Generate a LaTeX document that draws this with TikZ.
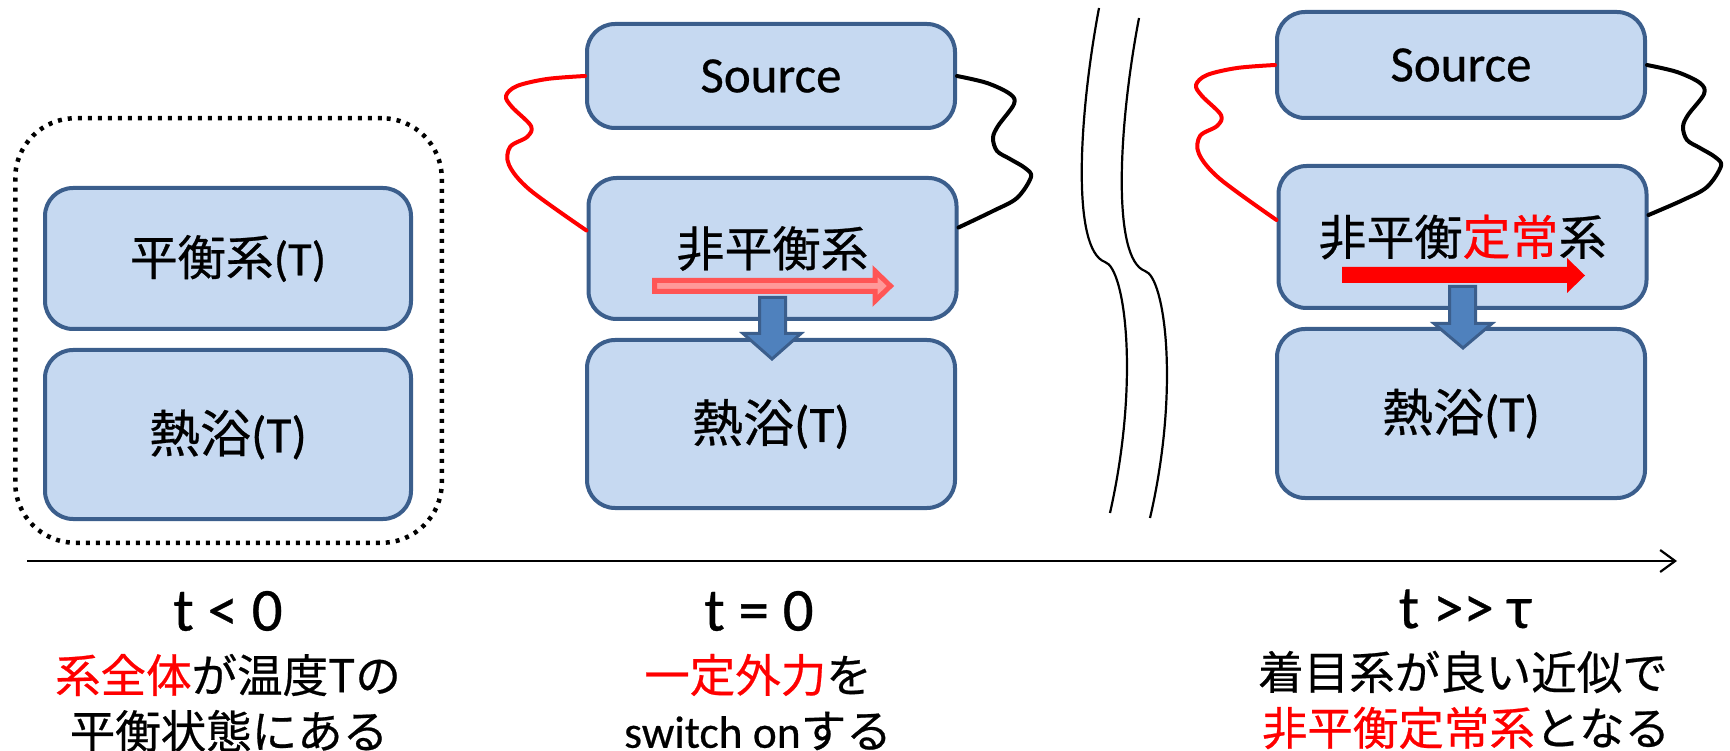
\documentclass[tikz,border=0pt]{standalone}
\usepackage{fontspec}
\setmainfont{Carlito}[FakeBold=0.5]
\newfontfamily\cjk{Noto Sans CJK JP}[FakeBold=0.5]
\usetikzlibrary{arrows.meta}
\definecolor{boxfill}{HTML}{C6D9F1}
\definecolor{boxline}{HTML}{3B5E8C}
\definecolor{arrowblue}{HTML}{4F81BD}
\definecolor{pinkfill}{HTML}{FF9999}
\definecolor{pinkline}{HTML}{FF5555}
\definecolor{pptred}{HTML}{FF0000}
\begin{document}
\begin{tikzpicture}[x=1pt,y=-1pt,
  box/.style={draw=boxline, fill=boxfill, line width=4pt, rounded corners=28pt, inner sep=0pt, align=center, minimum width=368pt},
  dotbox/.style={draw=black, line width=4.5pt, dash pattern=on 4pt off 6pt, rounded corners=60pt, inner sep=0pt},
  wire/.style={line width=4pt, line join=round, line cap=round},
  brk/.style={line width=2.2pt},
  heat/.style={draw=boxline, fill=arrowblue, line width=3pt, line join=miter},
  flowpink/.style={draw=pinkline, fill=pinkfill, line width=5pt, line join=miter},
  flowred/.style={fill=pptred},
  fbig/.style={font=\fontsize{51}{60}\selectfont},
  fmid/.style={font=\fontsize{48}{58}\selectfont},
  flbl/.style={font=\fontsize{61}{70}\selectfont, inner sep=0pt},
  fcap/.style={font=\fontsize{45.5}{55}\selectfont, inner sep=0pt},
]
\useasboundingbox (0,0) rectangle (1730,751);

% ---- left column
\node[dotbox, minimum width=426.5pt, minimum height=424.5pt] (grp) at (228.5,330.5) {};
\node[box, minimum width=366pt, minimum height=141pt, fmid] (eq) at (228,258.5) {{\cjk 平衡系}(T)};
\node[box, minimum width=366pt, minimum height=169pt, fbig] (bathA) at (228,434.5) {{\cjk 熱浴}(T)};

% ---- middle column
\node[box, minimum height=104pt, fbig] (srcB) at (771,76) {Source};
\node[box, minimum height=141pt, fmid] (sysB) at (772.5,248.5) {\cjk 非平衡系};
\node[box, minimum height=168pt, fbig] (bathB) at (771,424) {{\cjk 熱浴}(T)};

% ---- right column
\node[box, minimum height=106pt, fbig] (srcC) at (1461,65) {Source};
\node[box, minimum height=142pt, fmid] (sysC) at (1462.5,237) {\cjk 非平衡\textcolor{pptred}{定常}系};
\node[box, minimum height=169pt, fbig] (bathC) at (1461,413.5) {{\cjk 熱浴}(T)};

% ---- wires
\coordinate (sysBl) at ([yshift=18pt]sysB.west);
\coordinate (sysBr) at ([yshift=21pt]sysB.east);
\coordinate (sysCl) at ([yshift=17pt]sysC.west);
\coordinate (sysCr) at ([yshift=22pt]sysC.east);
\draw[wire, pptred] plot[smooth, tension=0.55] coordinates {(srcB.west) (547,79) (517,86) (506,96) (512,107) (531,126) (527,137) (510,147) (509,165) (530,190) (sysBl)};
\draw[wire, black] plot[smooth, tension=0.55] coordinates {(srcB.east) (987,83) (1010,94) (1014,104) (998,126) (993,138) (997,151) (1010,159) (1025,168) (1031,177) (1017,198) (993,211) (sysBr)};
\draw[wire, pptred] plot[smooth, tension=0.55] coordinates {(srcC.west) (1237,68) (1207,75) (1196,85) (1202,96) (1221,115) (1217,126) (1200,136) (1199,154) (1220,179) (sysCl)};
\draw[wire, black] plot[smooth, tension=0.55] coordinates {(srcC.east) (1677,72) (1700,83) (1704,94) (1688,115) (1683,127) (1687,140) (1700,148) (1715,157) (1721,166) (1707,187) (1683,200) (sysCr)};

% ---- flow arrows
\draw[flowpink] (654.5,280.5) -- (875,280.5) -- (875,271) -- (890.5,286) -- (875,301) -- (875,291.5) -- (654.5,291.5) -- cycle;
\fill[flowred] (1342,267) -- (1567,267) -- (1567,258) -- (1585,275.5) -- (1567,293) -- (1567,283) -- (1342,283) -- cycle;
\draw[heat] (759.5,297.5) -- (785.5,297.5) -- (785.5,333.5) -- (801,333.5) -- (772,359) -- (743,333.5) -- (759.5,333.5) -- cycle;
\draw[heat] (1449.5,286.5) -- (1475.5,286.5) -- (1475.5,323.5) -- (1492,323.5) -- (1463,348) -- (1434,323.5) -- (1449.5,323.5) -- cycle;

% ---- break lines
\draw[brk] (1099,8) .. controls (1078,120) and (1072,250) .. (1105,262) .. controls (1125,268) and (1140,380) .. (1110,513);
\draw[brk] (1139,18) .. controls (1118,128) and (1112,259) .. (1145,271) .. controls (1165,277) and (1180,389) .. (1150,518);

% ---- time axis
\coordinate (t0) at (27,561);
\coordinate (t1) at (1677,561);
\draw[line width=2.2pt, -{Straight Barb[length=15pt,width=22pt]}] (t0) -- (t1);

% ---- labels
\node[flbl] (l1) at (228,611) {t < 0};
\node[flbl] (l2) at (759,611) {t = 0};
\node[flbl] (l3) at (1465,609) {t >\kern0pt> τ};
\node[fcap] (c1a) at (228,675) {\cjk\textcolor{pptred}{系全体}が温度Tの};
\node[fcap] (c1b) at (229,731) {\cjk 平衡状態にある};
\node[fcap] (c2a) at (758,675) {\cjk\textcolor{pptred}{一定外力}を};
\node[fcap] (c2b) at (758,731) {switch on{\cjk する}};
\node[fcap] (c3a) at (1463,672) {\cjk 着目系が良い近似で};
\node[fcap] (c3b) at (1466,728) {\cjk\textcolor{pptred}{非平衡定常系}となる};
\end{tikzpicture}
\end{document}
